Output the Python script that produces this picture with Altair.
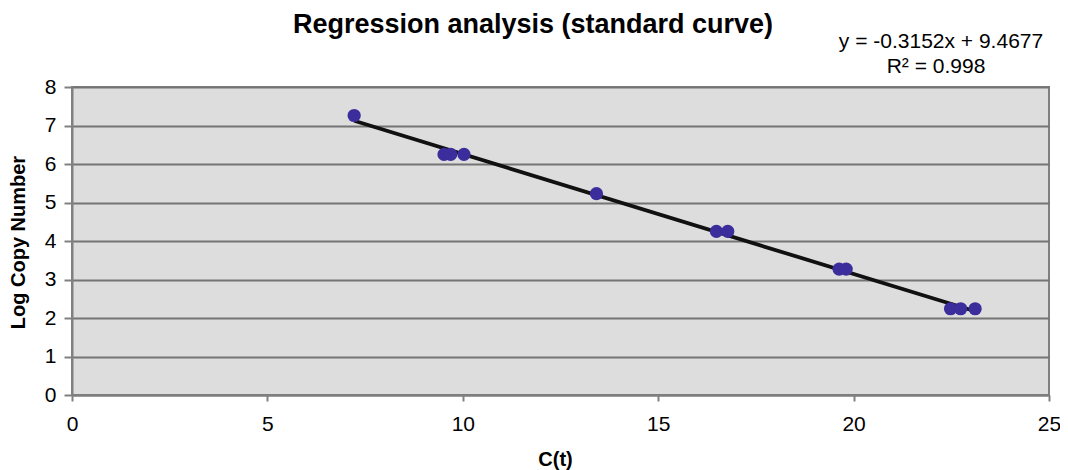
import altair as alt
import pandas as pd

# Data
ct = [7.22, 9.52, 9.69, 10.03, 13.42, 16.49, 16.78, 19.63, 19.81, 22.48, 22.74, 23.11]
log_copy = [7.26, 6.25, 6.25, 6.25, 5.23, 4.25, 4.25, 3.27, 3.27, 2.24, 2.24, 2.24]
x_ticks = [0, 5, 10, 15, 20, 25]
y_ticks = [0, 1, 2, 3, 4, 5, 6, 7, 8]
title_text = "Regression analysis (standard curve)"
eq_line1 = "y = -0.3152x + 9.4677"
eq_line2 = "R\u00b2 = 0.998"

FONT = "Liberation Sans"

df = pd.DataFrame({"ct": ct, "logcn": log_copy})

x_enc = alt.X(
    "ct:Q",
    scale=alt.Scale(domain=[0, 25], nice=False, zero=False),
    axis=alt.Axis(
        values=x_ticks, title="C(t)", grid=False,
        labelFontSize=21, labelPadding=12, tickSize=6,
        titleFontSize=20, titleFontWeight="bold",
        titleX=483, titleY=70, titleBaseline="alphabetic",
        labelFlush=False,
    ),
)
y_enc = alt.Y(
    "logcn:Q",
    scale=alt.Scale(domain=[0, 8], nice=False, zero=False),
    axis=alt.Axis(
        values=y_ticks, title="Log Copy Number", grid=True,
        labelFontSize=21, labelPadding=8, tickSize=8,
        titleFontSize=20, titleFontWeight="bold",
        titleX=-48, titleY=155, titleAngle=270,
        titleBaseline="alphabetic", titleAlign="center",
        labelFlush=False,
    ),
)

base = alt.Chart(df)

line = base.transform_regression("ct", "logcn").mark_line(
    color="#111111", strokeWidth=3.8
).encode(x=x_enc, y=y_enc)

pts = base.mark_circle(size=175, color="#3B2D9B", opacity=1).encode(x=x_enc, y=y_enc)

title = alt.Chart(pd.DataFrame({"t": [title_text]})).mark_text(
    font=FONT, fontSize=27, fontWeight="bold", align="center",
    baseline="alphabetic", color="black"
).encode(text="t:N", x=alt.value(461), y=alt.value(-54))

eq1 = alt.Chart(pd.DataFrame({"t": [eq_line1]})).mark_text(
    font=FONT, fontSize=21, align="center", baseline="alphabetic", color="black"
).encode(text="t:N", x=alt.value(869), y=alt.value(-39.5))

eq2 = alt.Chart(pd.DataFrame({"t": [eq_line2]})).mark_text(
    font=FONT, fontSize=21, align="center", baseline="alphabetic", color="black"
).encode(text="t:N", x=alt.value(864), y=alt.value(-14))

chart = alt.layer(line, pts, title, eq1, eq2).properties(
    width=977,
    height=308,
    autosize=alt.AutoSizeParams(type="none"),
    padding={"left": 64, "top": 79, "right": 11, "bottom": 75},
).configure_view(
    fill="#DCDDDC", stroke="#808080", strokeWidth=2
).configure_axis(
    labelFont=FONT, titleFont=FONT, labelColor="black", titleColor="black",
    domainColor="#808080", domainWidth=2,
    tickColor="#808080", tickWidth=2,
    gridColor="#747474", gridWidth=2,
)

chart.save("out.html", embed_options={"renderer": "svg", "actions": False})
